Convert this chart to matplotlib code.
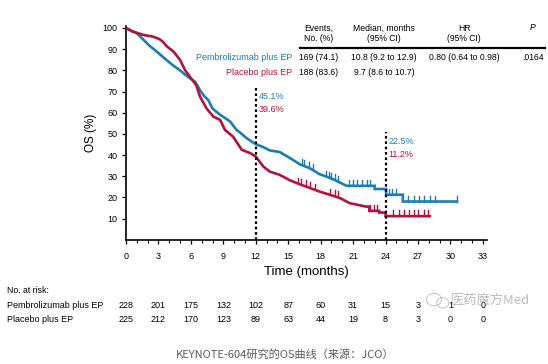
import matplotlib
matplotlib.use('Agg')
import matplotlib.pyplot as plt
from matplotlib.patches import Ellipse
import numpy as np

plt.rcParams['font.family'] = ['Liberation Sans', 'DejaVu Sans']

BLUE = '#1a7db3'
RED = '#b3123c'

# Kaplan-Meier curves (dense part traced, tail as steps)
pem_t = [0, 0.5, 1.0, 1.5, 2.2, 2.8, 3.6, 4.3, 5.0, 5.7, 6.4, 6.8, 7.2, 7.6, 8.0,
         8.7, 9.6, 10.2, 10.7, 11.15, 12.0, 12.6, 13.3, 14.2, 14.7, 15.2, 16.1,
         17.0, 17.9, 18.9, 19.8, 20.4, 23.0, 23.0, 24.05, 24.05, 25.6, 25.6, 30.6]
pem_s = [100, 98.5, 97.5, 95, 91.5, 89, 85.5, 82.5, 80, 77, 74.5, 71, 68, 66, 62,
         59, 56, 52, 50, 48, 45.1, 44, 42.2, 41.5, 40, 38.5, 35.6,
         33.8, 31, 29.2, 27, 25.5, 25.5, 24, 24, 21.3, 21.3, 18.1, 18.1]
plac_t = [0, 0.65, 1.6, 2.5, 3.1, 3.4, 3.8, 4.4, 5.0, 5.45, 5.9, 6.5, 6.84, 7.45,
          8.07, 8.7, 9.15, 9.9, 10.7, 11.5, 12.0, 12.7, 13.3, 14.2, 15.2, 16.1,
          17.0, 17.9, 18.9, 19.8, 20.7, 22.2, 22.5, 22.5, 23.4, 23.4, 24.0, 24.0, 28.1]
plac_s = [100, 98.3, 96.7, 95.9, 94.7, 93.5, 91.2, 88.8, 84.9, 80.2, 77, 73, 67.6, 62,
          58.2, 56.6, 51.9, 48.7, 42.5, 40.9, 39.3, 34.6, 32.2, 30.7, 28, 26.2,
          24.5, 22.8, 21.2, 19.7, 17.3, 15.7, 15.7, 13.7, 13.7, 12.9, 12.9, 11.2, 11.2]
pem_cens = [16.3, 16.5, 16.9, 17.3, 18.5, 18.8, 19.0, 19.3, 19.6, 20.6, 21.0, 21.4,
            21.8, 22.3, 22.6, 24.3, 24.6, 25.0, 26.1, 26.6, 27.1, 27.6, 28.1, 28.6, 30.6]
plac_cens = [15.9, 16.2, 16.6, 17.0, 17.5, 18.9, 19.3, 19.6, 22.6, 22.9, 23.2, 24.7,
             25.2, 25.7, 26.2, 26.6, 27.0, 27.6, 27.9]

landmarks = [12, 24]
landmark_top = [72, 51]
pem_land = ['45.1%', '22.5%']
plac_land = ['39.6%', '11.2%']

risk_times = [0, 3, 6, 9, 12, 15, 18, 21, 24, 27, 30, 33]
pem_risk = [228, 201, 175, 132, 102, 87, 60, 31, 15, 3, 1, 0]
plac_risk = [225, 212, 170, 123, 89, 63, 44, 19, 8, 3, 0, 0]

arm_names = ['Pembrolizumab plus EP', 'Placebo plus EP']
events = ['169 (74.1)', '188 (83.6)']
medians = ['10.8 (9.2 to 12.9)', '9.7 (8.6 to 10.7)']
hr_text = '0.80 (0.64 to 0.98)'
p_text = '.0164'

fig = plt.figure(figsize=(5.48, 3.64), dpi=100)
ax = fig.add_axes([0.230, 0.341, 0.659, 0.588])

for ts, ss, cens, col in [(pem_t, pem_s, pem_cens, BLUE), (plac_t, plac_s, plac_cens, RED)]:
    ax.plot(ts, ss, color=col, lw=1.9, zorder=3, solid_joinstyle='miter')
    # censor marks sit on the curve
    for c in cens:
        i = np.searchsorted(ts, c, side='right') - 1
        y = np.interp(c, ts[:i + 2], ss[:i + 2]) if i + 1 < len(ts) else ss[-1]
        ax.plot([c, c], [y, y + 2.8], color=col, lw=1.0, zorder=3)

for x, top, a, b in zip(landmarks, landmark_top, pem_land, plac_land):
    ax.plot([x, x], [0, top], color='black', lw=1.6, ls=(0, (1.2, 1.2)), zorder=4)
    ax.text(x + 0.3, top - 4.5, a, color=BLUE, fontsize=6.5, va='center')
    ax.text(x + 0.3, top - 10.5, b, color=RED, fontsize=6.5, va='center')

ax.set_xlim(0, 33.4)
ax.set_ylim(0, 101)
ax.set_xticks(risk_times)
ax.set_xticks(np.arange(0, 34, 1), minor=True)
ax.set_yticks(np.arange(10, 101, 10))
ax.tick_params(axis='both', labelsize=6.5, length=3, width=0.9, pad=3)
ax.tick_params(axis='x', which='minor', length=2, width=0.8)
ax.tick_params(axis='x', pad=6)
for s in ['top', 'right']:
    ax.spines[s].set_visible(False)
ax.spines['left'].set_linewidth(1.2)
ax.spines['bottom'].set_linewidth(1.2)
ax.set_xlabel('Time (months)', fontsize=9.5, labelpad=3)
ax.set_ylabel('OS (%)', fontsize=8.5, labelpad=4)

# header table
cols_x = [0.582, 0.701, 0.847, 0.972]
hy = 0.908
fig.text(cols_x[0], hy, 'Events,\nNo. (%)', fontsize=6.2, ha='center', va='center', linespacing=1.2)
fig.text(cols_x[1], hy, 'Median, months\n(95% CI)', fontsize=6.2, ha='center', va='center', linespacing=1.2)
fig.text(cols_x[2], hy, 'HR\n(95% CI)', fontsize=6.2, ha='center', va='center', linespacing=1.2)
fig.text(cols_x[3], 0.925, 'P', fontsize=6.2, ha='center', va='center', style='italic')
fig.add_artist(plt.Line2D([0.547, 0.995], [0.868, 0.868], color='black', lw=1.6))
row_y = [0.841, 0.802]
for i, (name, col) in enumerate(zip(arm_names, [BLUE, RED])):
    fig.text(0.533, row_y[i], name, fontsize=6.5, color=col, ha='right', va='center')
    fig.text(cols_x[0], row_y[i], events[i], fontsize=6.2, ha='center', va='center')
    fig.text(cols_x[1], row_y[i], medians[i], fontsize=6.2, ha='center', va='center')
fig.text(cols_x[2], row_y[0], hr_text, fontsize=6.2, ha='center', va='center')
fig.text(cols_x[3], row_y[0], p_text, fontsize=6.2, ha='center', va='center')

# number at risk
fig.text(0.012, 0.201, 'No. at risk:', fontsize=6.3, va='center')
for y, name, vals in [(0.161, arm_names[0], pem_risk), (0.121, arm_names[1], plac_risk)]:
    fig.text(0.012, y, name, fontsize=6.5, va='center')
    for t, v in zip(risk_times, vals):
        xf = ax.transData.transform((t, 0))[0] / fig.bbox.width
        fig.text(xf, y, str(v), fontsize=6.5, ha='center', va='center')

# watermark
fig.add_artist(Ellipse((0.792, 0.177), 0.028, 0.034, transform=fig.transFigure,
                       fill=False, ec='#c8c8c8', lw=0.8))
fig.add_artist(Ellipse((0.808, 0.168), 0.022, 0.028, transform=fig.transFigure,
                       fill=False, ec='#c8c8c8', lw=0.8))
fig.text(0.894, 0.176, '医药魔方Med', fontsize=9.5, color='#b0b0b0', ha='center', va='center',
         family=['Noto Sans CJK SC', 'DejaVu Sans'], alpha=0.85)
fig.text(0.52, 0.027, 'KEYNOTE-604研究的OS曲线（来源：JCO）', fontsize=8, color='#5c5c5c',
         ha='center', va='center', family=['Noto Sans CJK SC', 'DejaVu Sans'])

fig.savefig('out.png', dpi=100, facecolor='white')
